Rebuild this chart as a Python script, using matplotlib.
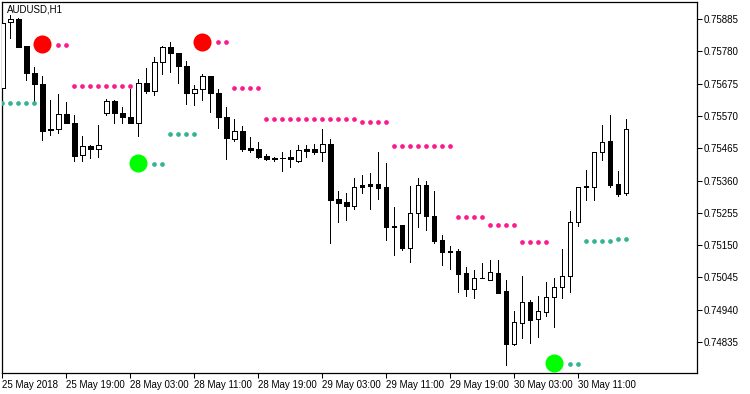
import numpy as np
import matplotlib
matplotlib.use("Agg")
import matplotlib.pyplot as plt
from matplotlib.patches import Rectangle

plt.rcParams["font.family"] = ["Liberation Sans", "DejaVu Sans"]

# AUDUSD H1 bars, 25 May 2018 11:00 onwards
opens = [0.75661, 0.75874, 0.75885, 0.75797, 0.75709, 0.75674, 0.75528, 0.75527, 0.75575, 0.75546,
         0.75442, 0.75472, 0.75463, 0.75579, 0.75619, 0.75579, 0.75566, 0.75546, 0.75676, 0.75652,
         0.75744, 0.75795, 0.75774, 0.75732, 0.75645, 0.75657, 0.75700, 0.75644, 0.75567, 0.75496,
         0.75521, 0.75467, 0.75463, 0.75441, 0.75433, 0.75433, 0.75438, 0.75424, 0.75463, 0.75463,
         0.75454, 0.75479, 0.75300, 0.75289, 0.75278, 0.75346, 0.75349, 0.75348, 0.75338, 0.75213,
         0.75216, 0.75142, 0.75254, 0.75346, 0.75245, 0.75167, 0.75131, 0.75131, 0.75059, 0.75007,
         0.75042, 0.75035, 0.75059, 0.75001, 0.74830, 0.74898, 0.74964, 0.74909, 0.74934, 0.74981,
         0.75013, 0.75051, 0.75226, 0.75342, 0.75340, 0.75452, 0.75489, 0.75349, 0.75319]
highs = [0.75878, 0.75898, 0.75887, 0.75797, 0.75730, 0.75700, 0.75622, 0.75640, 0.75614, 0.75573,
         0.75505, 0.75476, 0.75541, 0.75625, 0.75622, 0.75598, 0.75657, 0.75690, 0.75725, 0.75761,
         0.75797, 0.75809, 0.75774, 0.75749, 0.75670, 0.75706, 0.75700, 0.75657, 0.75598, 0.75560,
         0.75537, 0.75502, 0.75485, 0.75446, 0.75438, 0.75452, 0.75459, 0.75476, 0.75474, 0.75479,
         0.75528, 0.75494, 0.75326, 0.75320, 0.75367, 0.75378, 0.75384, 0.75452, 0.75416, 0.75275,
         0.75216, 0.75342, 0.75367, 0.75358, 0.75326, 0.75183, 0.75147, 0.75138, 0.75078, 0.75069,
         0.75091, 0.75100, 0.75102, 0.75037, 0.74936, 0.75050, 0.74972, 0.74985, 0.75029, 0.75042,
         0.75138, 0.75261, 0.75338, 0.75394, 0.75452, 0.75541, 0.75573, 0.75391, 0.75560]
lows = [0.75655, 0.75823, 0.75793, 0.75687, 0.75616, 0.75492, 0.75508, 0.75514, 0.75546, 0.75424,
        0.75424, 0.75432, 0.75438, 0.75573, 0.75546, 0.75546, 0.75546, 0.75506, 0.75644, 0.75638,
        0.75706, 0.75714, 0.75676, 0.75608, 0.75605, 0.75622, 0.75584, 0.75532, 0.75429, 0.75489,
        0.75457, 0.75454, 0.75434, 0.75427, 0.75424, 0.75392, 0.75405, 0.75421, 0.75436, 0.75446,
        0.75424, 0.75156, 0.75226, 0.75230, 0.75268, 0.75319, 0.75267, 0.75300, 0.75167, 0.75118,
        0.75134, 0.75096, 0.75208, 0.75199, 0.75156, 0.75086, 0.75073, 0.74999, 0.74983, 0.74979,
        0.75042, 0.75035, 0.74995, 0.74760, 0.74826, 0.74847, 0.74831, 0.74852, 0.74921, 0.74885,
        0.74977, 0.74999, 0.75212, 0.75297, 0.75297, 0.75427, 0.75340, 0.75310, 0.75313]
closes = [0.75872, 0.75885, 0.75795, 0.75709, 0.75673, 0.75522, 0.75524, 0.75575, 0.75546, 0.75441,
          0.75472, 0.75463, 0.75475, 0.75619, 0.75579, 0.75566, 0.75546, 0.75676, 0.75652, 0.75744,
          0.75795, 0.75774, 0.75732, 0.75645, 0.75657, 0.75700, 0.75644, 0.75567, 0.75497, 0.75521,
          0.75463, 0.75459, 0.75438, 0.75431, 0.75431, 0.75432, 0.75431, 0.75459, 0.75457, 0.75454,
          0.75479, 0.75297, 0.75288, 0.75278, 0.75338, 0.75340, 0.75343, 0.75337, 0.75210, 0.75210,
          0.75142, 0.75254, 0.75346, 0.75243, 0.75164, 0.75129, 0.75129, 0.75057, 0.75007, 0.75042,
          0.75043, 0.75062, 0.74995, 0.74830, 0.74899, 0.74964, 0.74907, 0.74936, 0.74981, 0.75013,
          0.75048, 0.75226, 0.75338, 0.75339, 0.75452, 0.75486, 0.75346, 0.75316, 0.75527]

# indicator levels: (first bar, last bar, price)
res_start = [7, 9, 27, 29, 33, 45, 49, 57, 61, 65]
res_end = [8, 16, 28, 32, 44, 48, 56, 60, 64, 68]
res_level = [0.75802, 0.75666, 0.75809, 0.75660, 0.75559, 0.75549, 0.75471, 0.75241, 0.75215, 0.75159]
sup_start = [0, 19, 21, 71, 73, 77]
sup_end = [4, 20, 24, 72, 76, 78]
sup_level = [0.75611, 0.75413, 0.75510, 0.74763, 0.75164, 0.75169]
sell_bar = [5, 25]
sell_price = [0.75803, 0.75811]
buy_bar = [17, 69]
buy_price = [0.75416, 0.74768]

yticks = [0.75885, 0.75780, 0.75675, 0.75570, 0.75465, 0.75360, 0.75255,
          0.75150, 0.75045, 0.74940, 0.74835]
xtick_bars = [0, 8, 16, 24, 32, 40, 48, 56, 64, 72]
xtick_labels = ["25 May 2018", "25 May 19:00", "28 May 03:00", "28 May 11:00", "28 May 19:00",
                "29 May 03:00", "29 May 11:00", "29 May 19:00", "30 May 03:00", "30 May 11:00"]

fig = plt.figure(figsize=(7.5, 3.94), dpi=100)
ax = fig.add_axes([2 / 750, 1 - 373 / 394, 695 / 750, 371 / 394])

lw = 0.6
bw = 0.55
for i, (o, h, l, c) in enumerate(zip(opens, highs, lows, closes)):
    ax.vlines(i, l, h, color="black", lw=lw, zorder=2, antialiased=False)
    bull = c > o
    bottom = min(o, c)
    height = max(abs(c - o), 0.000005)
    ax.add_patch(Rectangle((i - bw / 2, bottom), bw, height,
                           facecolor="white" if bull else "black",
                           edgecolor="black", lw=lw, zorder=3, antialiased=False))

for s, e, v in zip(res_start, res_end, res_level):
    xs = np.arange(s, e + 1)
    ax.plot(xs, [v] * len(xs), ls="none", marker="o", ms=3.4, color="#ff1a8c", mec="none", zorder=4)
for s, e, v in zip(sup_start, sup_end, sup_level):
    xs = np.arange(s, e + 1)
    ax.plot(xs, [v] * len(xs), ls="none", marker="o", ms=3.4, color="#36b393", mec="none", zorder=4)

ax.plot(sell_bar, sell_price, ls="none", marker="o", ms=13, color="#ff0000", mec="none", zorder=5)
ax.plot(buy_bar, buy_price, ls="none", marker="o", ms=13, color="#00ff00", mec="none", zorder=5)

ax.set_xlim(-0.04, 86.84)
ax.set_ylim(0.747342, 0.759403)

ax.yaxis.tick_right()
ax.set_yticks(yticks)
ax.set_yticklabels([f"{v:.5f}" for v in yticks])
ax.set_xticks(xtick_bars)
ax.set_xticklabels(xtick_labels, ha="left")
ax.tick_params(axis="both", direction="out", length=3.5, width=0.75, color="black",
               labelsize=7, pad=1)
ax.tick_params(axis="x", pad=1.5)
for sp in ax.spines.values():
    sp.set_linewidth(0.9)
    sp.set_color("black")

ax.text(5 / 695, 1 - 3 / 371, "AUDUSD,H1", transform=ax.transAxes, ha="left", va="top",
        fontsize=7, color="black")

fig.savefig("out.png", dpi=100)
